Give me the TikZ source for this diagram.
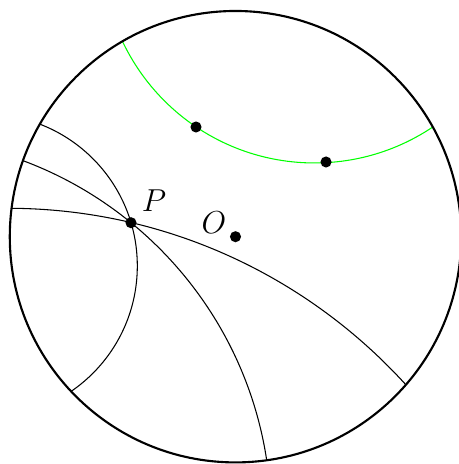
\documentclass[tikz,border=0pt]{standalone}
\usepackage{tikz}
\usetikzlibrary{positioning}
\tikzset{
  disk/.style  = {draw, thick},
  geo/.style   = {draw, thin},
  ggeo/.style  = {geo, green},
  dot/.style   = {circle, fill, inner sep=0pt, minimum size=4.2pt},
  lbl/.style   = {font=\large}
}
\begin{document}
\begin{tikzpicture}
  \useasboundingbox (-3.130,-3.021) rectangle (2.958,3.146);
  \begin{scope}
    \clip (0,0) circle (3);
    \path[ggeo] (1.050,3.802) circle (2.822);
    \path[geo] (-3.033,-6.776) circle (7.154);
    \path[geo] (-4.590,-3.735) circle (5.062);
    \path[geo] (-3.323,-0.389) circle (2.018);
  \end{scope}
  \path[disk] (0,0) circle (3);
  \node[dot] (O)  at (0,0) {};
  \node[dot] (P)  at (-1.389,0.186) {};
  \node[dot] (g1) at (-0.525,1.458) {};
  \node[dot] (g2) at (1.203,0.993) {};
  \node[lbl, above right=-1pt and -1pt of P] (Plbl) {$P$};
  \node[lbl, above left=-3.8pt and -1.7pt of O] (Olbl) {$O$};
\end{tikzpicture}
\end{document}
